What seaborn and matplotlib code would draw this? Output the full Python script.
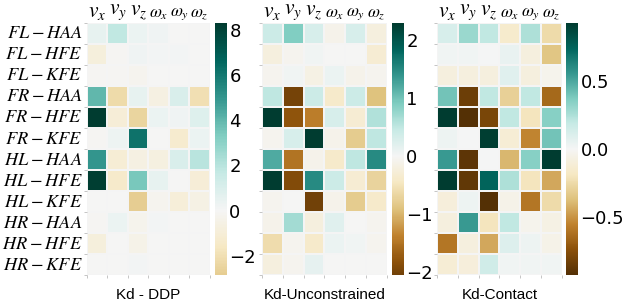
import numpy as np
import pandas as pd
import matplotlib
matplotlib.use("Agg")
import matplotlib.pyplot as plt
import seaborn as sns

plt.rcParams["mathtext.fontset"] = "stix"

joints = ["FL-HAA", "FL-HFE", "FL-KFE",
          "FR-HAA", "FR-HFE", "FR-KFE",
          "HL-HAA", "HL-HFE", "HL-KFE",
          "HR-HAA", "HR-HFE", "HR-KFE"]
dims = [r"$v_x$", r"$v_y$", r"$v_z$", r"$\omega_x$", r"$\omega_y$", r"$\omega_z$"]

# Kd - DDP
kd_ddp = [
    [0.5, 1.8, 0.4, 0.2, 0.0, 0.0],
    [-0.8, -0.1, 0.2, 0.1, 0.1, 0.0],
    [-0.1, -0.1, -0.2, 0.0, 0.0, 0.0],
    [4.0, -2.2, 0.5, -0.6, 1.0, -2.0],
    [8.3, -1.0, -2.5, 0.4, 0.2, 0.8],
    [-0.1, 0.3, 6.2, 0.0, -1.2, 0.4],
    [5.0, -1.1, -0.6, -0.7, 1.0, 2.0],
    [8.2, -1.4, 3.5, 0.5, 0.0, -1.0],
    [-0.05, 0.0, -2.85, -0.2, -0.9, -0.5],
    [-0.1, 0.4, -0.3, 0.1, 0.0, 0.0],
    [-0.8, 0.0, -0.4, 0.0, 0.0, 0.0],
    [0.0, 0.0, 0.1, 0.0, 0.0, 0.0],
]

# Kd-Unconstrained
kd_unc = [
    [0.4, 0.9, 0.3, -0.1, 0.3, -0.2],
    [-0.2, -0.05, 0.05, 0.0, 0.0, -0.3],
    [-0.05, 0.05, -0.15, 0.1, -0.1, -0.05],
    [0.5, -2.0, 0.4, -0.4, 0.4, -0.9],
    [2.3, -1.8, -1.4, 0.3, -0.3, 0.6],
    [-0.05, 0.3, 2.3, -0.1, -0.8, 0.5],
    [1.2, -1.5, -0.1, -0.4, 0.5, 1.5],
    [2.3, -1.9, 1.5, 0.4, -0.3, -0.7],
    [-0.05, 0.0, -2.05, -0.1, -0.8, -0.4],
    [-0.1, 0.7, -0.2, 0.2, 0.0, -0.05],
    [-0.6, -0.05, -0.4, 0.1, 0.05, -0.05],
    [-0.2, -0.05, 0.15, 0.0, 0.0, 0.0],
]

# Kd-Contact
kd_con = [
    [0.12, 0.3, 0.2, -0.15, 0.25, -0.25],
    [0.02, 0.02, 0.0, 0.05, -0.08, -0.35],
    [-0.08, -0.08, -0.08, 0.08, -0.08, -0.03],
    [0.4, -0.85, 0.2, -0.3, 0.2, -0.65],
    [0.93, -0.93, -0.8, 0.2, -0.2, 0.35],
    [0.03, 0.0, 0.92, -0.12, -0.55, 0.4],
    [0.55, -0.9, 0.0, -0.4, 0.35, 0.93],
    [0.93, -0.88, 0.75, 0.25, -0.2, -0.45],
    [-0.1, 0.03, -0.93, -0.05, -0.6, -0.25],
    [-0.08, 0.55, -0.2, 0.2, -0.03, -0.06],
    [-0.6, -0.08, -0.45, 0.1, 0.03, -0.05],
    [-0.12, -0.1, 0.15, 0.02, 0.02, 0.02],
]

titles = ["Kd - DDP", "Kd-Unconstrained", "Kd-Contact"]
ylabels = ["$" + j.replace("-", " - ") + "$" for j in joints]

fig = plt.figure(figsize=(6.23, 3.03), dpi=100)
boxes = [
    ([0.1396, 0.0924, 0.1974, 0.8317], [0.3451, 0.0924, 0.0185, 0.8317]),
    ([0.4205, 0.0924, 0.2006, 0.8317], [0.6292, 0.0924, 0.0185, 0.8317]),
    ([0.7014, 0.0924, 0.2006, 0.8317], [0.9085, 0.0924, 0.0190, 0.8317]),
]

for i, (data, title) in enumerate(zip([kd_ddp, kd_unc, kd_con], titles)):
    ax = fig.add_axes(boxes[i][0])
    cax = fig.add_axes(boxes[i][1])
    df = pd.DataFrame(data, index=ylabels, columns=dims)
    sns.heatmap(df, ax=ax, cbar_ax=cax, cmap="BrBG", center=0,
                linewidths=0.15, linecolor="#f4f4f4")
    ax.xaxis.tick_top()
    ax.tick_params(axis="both", which="major", length=0, pad=1)
    for k, lab in enumerate(ax.get_xticklabels()):
        lab.set_rotation(0)
        lab.set_fontsize(15.5 if k < 3 else 12.5)
    if i == 0:
        ax.set_yticklabels(ylabels, rotation=0, fontsize=13.2)
        ax.tick_params(axis="y", pad=3)
    else:
        ax.set_yticklabels([])
    ax.set_xticks(np.arange(7), minor=True)
    ax.set_yticks(np.arange(13), minor=True)
    ax.tick_params(which="minor", length=2, color="#bbbbbb", width=0.6,
                   bottom=True, left=True, top=False)
    ax.set_xlabel(title, fontsize=11, family="Liberation Sans", labelpad=7)
    cax.tick_params(labelsize=13, length=0, pad=2)
    for sp in cax.spines.values():
        sp.set_visible(False)

fig.savefig("out.png", dpi=100)
